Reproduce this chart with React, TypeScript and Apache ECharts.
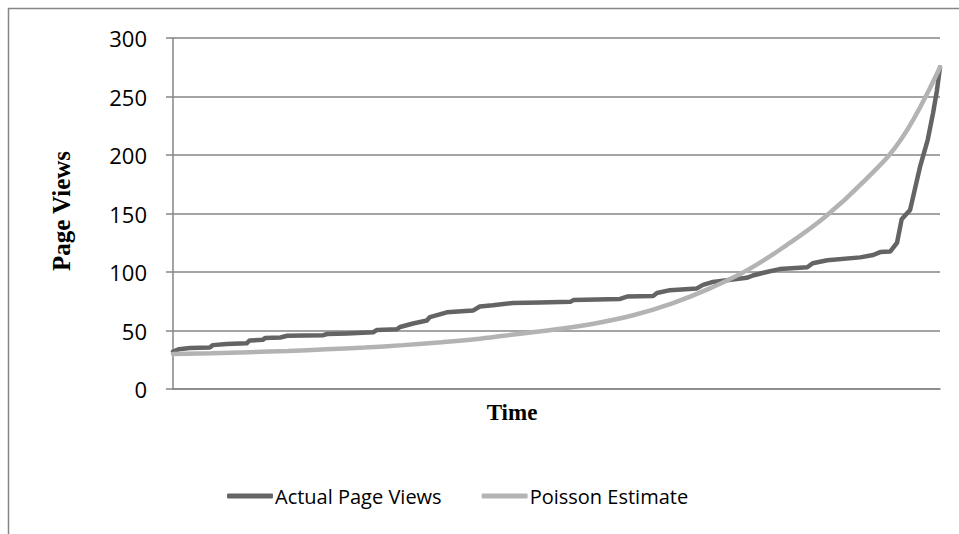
import React, { useEffect, useRef } from "react";
import * as echarts from "echarts";

// Time positions (0–100) and values for the actual page views
const actualTime = [
  0, 0.8, 2.2, 4.8, 5.2, 7.0, 9.6, 10.0, 11.7, 12.0, 14.0, 14.9, 19.6, 20.1, 22.7, 26.1,
  26.6, 29.2, 29.6, 31.3, 33.1, 33.5, 35.7, 39.1, 40.0, 41.7, 44.3, 47.8, 51.8, 52.2, 58.3,
  59.2, 62.6, 63.1, 64.8, 68.3, 69.1, 70.4, 72.2, 74.8, 75.6, 77.4, 79.1, 82.7, 83.4, 85.3,
  89.6, 91.3, 92.2, 93.5, 94.4, 95.0, 96.1, 96.7, 97.4, 98.4, 99.1, 99.6, 100,
];
const actualViews = [
  32, 34, 35, 35.5, 37.5, 38.5, 39, 41.5, 42, 43.5, 44, 45.5, 46, 47, 47.5, 48.5,
  50.5, 51, 53, 56, 58.5, 61.5, 65.5, 67, 70.5, 71.5, 73.5, 74, 74.5, 76, 77,
  79, 79.5, 82, 84.5, 86, 89, 91.5, 93, 95, 97, 100, 102.5, 104, 107.5, 110,
  112.5, 114.5, 117, 117.5, 125, 145, 153, 170, 190, 213, 236, 255, 275,
];

// Poisson estimate read at regular time positions
const poissonTime = [0, 5, 10, 15, 20, 25, 30, 35, 40, 45, 50, 55, 60, 65, 70, 75, 80, 85, 90, 95, 100];
const poissonViews = [30, 30.5, 31.5, 32.5, 34, 35.5, 37.5, 40, 43, 47, 51, 56, 63, 73, 86, 102, 123, 147, 177, 214, 275];

const yTicks = [0, 50, 100, 150, 200, 250, 300];
const seriesNames = ["Actual Page Views", "Poisson Estimate"];

export default function App() {
  const ref = useRef<HTMLDivElement>(null);
  useEffect(() => {
    document.body.style.margin = "0";
    if (!ref.current) return;
    const chart = echarts.init(ref.current, undefined, { renderer: "svg" });
    const gray = "#868686";
    chart.setOption({
      animation: false,
      backgroundColor: "#ffffff",
      grid: { left: 173, top: 38, right: 19, bottom: 145, containLabel: false },
      xAxis: {
        type: "value",
        min: 0,
        max: 100,
        axisLine: { show: true, lineStyle: { color: gray, width: 1.5 } },
        axisTick: { show: false },
        axisLabel: { show: false },
        splitLine: { show: false },
      },
      yAxis: {
        type: "value",
        min: yTicks[0],
        max: yTicks[yTicks.length - 1],
        interval: 50,
        axisLine: { show: true, lineStyle: { color: gray, width: 1.5 } },
        axisTick: { show: true, length: 7, lineStyle: { color: gray, width: 1.5 } },
        axisLabel: {
          margin: 26,
          color: "#000",
          fontSize: 22,
          fontFamily: "Open Sans",
        },
        splitLine: { show: true, lineStyle: { color: gray, width: 1.5 } },
      },
      legend: {
        left: 222,
        top: 481,
        icon: "roundRect",
        itemWidth: 46,
        itemHeight: 5,
        itemGap: 40,
        textStyle: { color: "#000", fontSize: 20, fontFamily: "Open Sans", padding: [0, 0, 0, -3] },
        data: seriesNames,
      },
      graphic: [
        {
          type: "rect",
          z: -10,
          silent: true,
          shape: { x: 8.5, y: 8.5, width: 1200, height: 800 },
          style: { fill: "none", stroke: gray, lineWidth: 1.5 },
        },
        {
          type: "text",
          x: 61,
          y: 211,
          rotation: Math.PI / 2,
          style: {
            text: "Page Views",
            fill: "#000",
            font: "bold 25px 'Liberation Serif', 'Times New Roman', serif",
            textAlign: "center",
            textVerticalAlign: "middle",
          },
        },
        {
          type: "text",
          x: 512,
          y: 412,
          style: {
            text: "Time",
            fill: "#000",
            font: "bold 23px 'Liberation Serif', 'Times New Roman', serif",
            textAlign: "center",
            textVerticalAlign: "middle",
          },
        },
      ],
      series: [
        {
          name: seriesNames[0],
          type: "line",
          showSymbol: false,
          symbol: "none",
          data: actualTime.map((t, i) => [t, actualViews[i]]),
          lineStyle: { color: "#646464", width: 4.5, cap: "round", join: "round" },
          itemStyle: { color: "#646464" },
        },
        {
          name: seriesNames[1],
          type: "line",
          showSymbol: false,
          symbol: "none",
          smooth: 0.4,
          data: poissonTime.map((t, i) => [t, poissonViews[i]]),
          lineStyle: { color: "#b3b3b3", width: 4.5, cap: "round" },
          itemStyle: { color: "#b3b3b3" },
        },
      ],
    });
    return () => chart.dispose();
  }, []);
  return <div ref={ref} style={{ width: 959, height: 534 }} />;
}
